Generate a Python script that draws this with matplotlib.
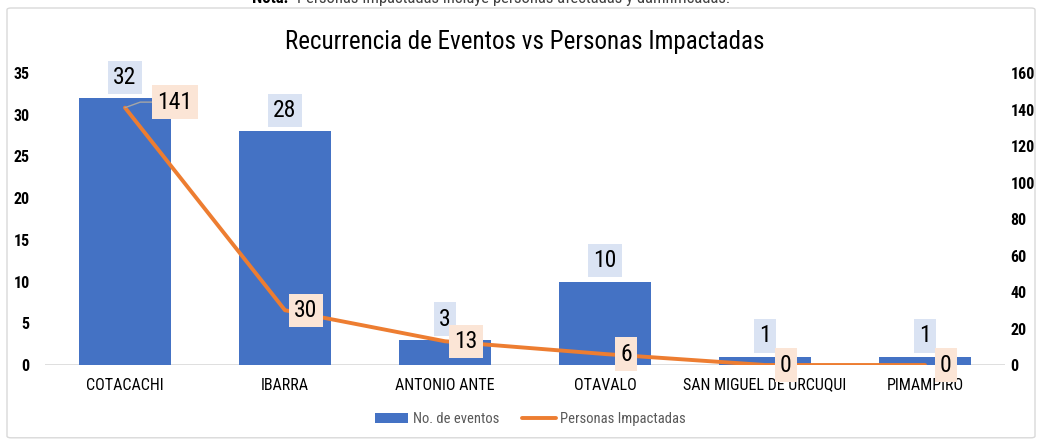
import matplotlib.pyplot as plt
from matplotlib import font_manager
from matplotlib.patches import FancyBboxPatch
import numpy as np

# data
cantones = ['COTACACHI', 'IBARRA', 'ANTONIO ANTE', 'OTAVALO',
            'SAN MIGUEL DE URCUQUI', 'PIMAMPIRO']
eventos = [32, 28, 3, 10, 1, 1]
personas = [141, 30, 13, 6, 0, 0]

# pick a condensed face if the system has one
fonts = {(f.name, f.stretch) for f in font_manager.fontManager.ttflist}
names = {f[0] for f in fonts}
family = 'DejaVu Sans'
stretch = 'normal'
for nm in ['Roboto Condensed', 'Liberation Sans Narrow', 'Open Sans Condensed',
           'Noto Sans Condensed']:
    if nm in names:
        family = nm
        break
else:
    if ('DejaVu Sans', 'condensed') in fonts or ('DejaVu Sans', 'semi-condensed') in fonts:
        stretch = 'condensed'
plt.rcParams['font.family'] = [family, 'DejaVu Sans']
plt.rcParams['font.stretch'] = stretch

blue = '#4472C4'
orange = '#ED7D31'

fig = plt.figure(figsize=(10.38, 4.4), dpi=100)

# light chart frame
frame = FancyBboxPatch((7 / 1038, 0.005), 1028 / 1038, 1 - 8 / 440 - 0.005,
                       boxstyle='round,pad=0,rounding_size=0.004',
                       transform=fig.transFigure, fill=False,
                       edgecolor='#D9D9D9', linewidth=1.0)
fig.patches.append(frame)

# note above chart (cut off at the top like in the source)
fig.text(0.278, 1.004, 'Nota:', fontsize=12, fontweight='bold', va='center', ha='right')
fig.text(0.286, 1.004, 'Personas Impactadas incluye personas afectadas y damnificadas.',
         fontsize=12, color='#404040', va='center', ha='left')

ax = fig.add_axes([45 / 1038, 1 - 365 / 440, 960 / 1038, 292 / 440])
ax2 = ax.twinx()

x = np.arange(len(cantones))
bars = ax.bar(x, eventos, width=0.575, color=blue, label='No. de eventos', zorder=2)
line, = ax2.plot(x, personas, color=orange, linewidth=2.8, label='Personas Impactadas',
                 solid_capstyle='round', zorder=3)

ax.set_xlim(-0.5, len(cantones) - 0.5)
ax.set_ylim(0, 35)
ax.set_yticks(range(0, 36, 5))
ax2.set_ylim(0, 160)
ax2.set_yticks(range(0, 161, 20))

for a in (ax, ax2):
    for s in a.spines.values():
        s.set_visible(False)
    a.tick_params(length=0)
ax.axhline(0, color='#D9D9D9', linewidth=1.2, zorder=1)

ax.set_xticks(x)
ax.set_xticklabels(cantones, fontsize=11.5)
ax.tick_params(axis='x', pad=9)
ax.tick_params(axis='y', labelsize=11.5, pad=11)
ax2.tick_params(axis='y', labelsize=11.5, pad=4)
for lbl in ax.get_yticklabels() + ax2.get_yticklabels():
    lbl.set_fontweight('bold')

# bar labels
for xi, v in zip(x, eventos):
    ax.annotate(str(v), (xi, v), xytext=(0, 15), textcoords='offset points',
                ha='center', va='center', fontsize=17, zorder=5,
                bbox=dict(boxstyle='square,pad=0.22', fc='#DAE3F3', ec='none'))

# line labels
for i, (xi, v) in enumerate(zip(x, personas)):
    if i == 0:
        ax2.annotate(str(v), (xi, v), xytext=(36, 4), textcoords='offset points',
                     ha='center', va='center', fontsize=17, zorder=6,
                     bbox=dict(boxstyle='square,pad=0.22', fc='#FBE5D6', ec='none'),
                     arrowprops=dict(arrowstyle='-', color='#A6A6A6', lw=1,
                                     connectionstyle='angle,angleA=0,angleB=20',
                                     shrinkA=0, shrinkB=0))
    else:
        ax2.annotate(str(v), (xi, v), xytext=(15, 0), textcoords='offset points',
                     ha='center', va='center', fontsize=17, zorder=6,
                     bbox=dict(boxstyle='square,pad=0.22', fc='#FBE5D6', ec='none'))

fig.text(0.506, 0.905, 'Recurrencia de Eventos vs Personas Impactadas',
         ha='center', va='center', fontsize=18)

leg = fig.legend([bars, line], ['No. de eventos', 'Personas Impactadas'],
                 loc='center', bbox_to_anchor=(0.511, 0.048), ncol=2,
                 frameon=False, fontsize=10.5, handlelength=2.3, columnspacing=1.6,
                 handletextpad=0.3)
for t in leg.get_texts():
    t.set_color('#595959')

fig.savefig('out.png', dpi=100)
